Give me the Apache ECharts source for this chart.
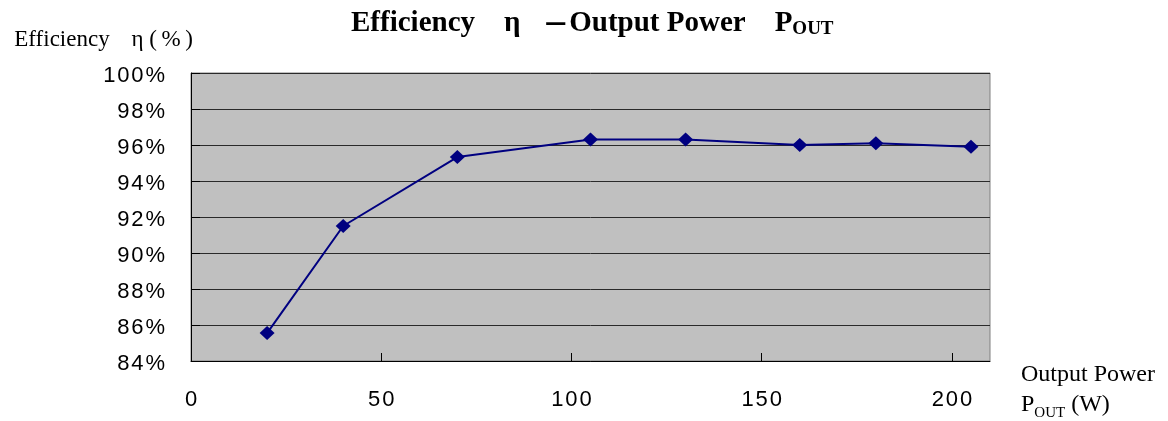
<!DOCTYPE html>
<html>
<head>
<meta charset="utf-8">
<script src="https://cdn.jsdelivr.net/npm/echarts@6/dist/echarts.min.js"></script>
<style>
  html, body { margin: 0; padding: 0; background: #fff; }
  #chart { width: 1168px; height: 421px; }
</style>
</head>
<body>
<div id="chart"></div>
<script>
// 出力電力 (W) と効率 (%)
var powerW = [20, 40, 70, 105, 130, 160, 180, 205];
var efficiency = [85.55, 91.5, 95.33, 96.3, 96.3, 96.0, 96.1, 95.9];

var HS = '\u200A'; // 文字間を少し空ける
function spaced(s) {
  return String(s).split('').join(HS);
}

var chart = echarts.init(document.getElementById('chart'));

var option = {
  animation: false,
  backgroundColor: '#fff',
  title: {
    text: '{a|Efficiency\u3000η   }{d|－}{a|Output Power\u3000P}{s|OUT}',
    left: 346,
    top: 4,
    textStyle: {
      rich: {
        a: {
          fontFamily: 'Liberation Serif',
          fontWeight: 'bold',
          fontSize: 29,
          lineHeight: 30,
          color: '#000'
        },
        d: {
          fontFamily: 'Noto Sans CJK JP',
          fontWeight: 'bold',
          fontSize: 27,
          lineHeight: 30,
          color: '#000'
        },
        s: {
          fontFamily: 'Liberation Serif',
          fontWeight: 'bold',
          fontSize: 19,
          lineHeight: 18,
          verticalAlign: 'bottom',
          color: '#000'
        }
      }
    }
  },
  grid: {
    left: 191,
    top: 73,
    right: 178,
    bottom: 59,
    show: true,
    backgroundColor: '#c0c0c0',
    borderColor: '#808080',
    borderWidth: 1
  },
  xAxis: {
    type: 'value',
    min: 0,
    max: 210,
    interval: 50,
    name: '{r1|Output Power}\n{r2|P}{s2|OUT}{r2| (W)}',
    nameLocation: 'end',
    nameGap: 31,
    nameTextStyle: {
      align: 'left',
      verticalAlign: 'top',
      rich: {
        r1: { fontFamily: 'Liberation Serif', fontSize: 24, lineHeight: 28, color: '#000' },
        r2: { fontFamily: 'Liberation Serif', fontSize: 24, lineHeight: 32, color: '#000' },
        s2: { fontFamily: 'Liberation Serif', fontSize: 15, lineHeight: 22, verticalAlign: 'bottom', color: '#000' }
      }
    },
    axisLine: { show: true, lineStyle: { color: '#000', width: 1 } },
    axisTick: { show: true, inside: true, length: 8, lineStyle: { color: '#000' } },
    splitLine: { show: false },
    axisLabel: {
      showMaxLabel: false,
      margin: 28,
      fontFamily: 'Liberation Sans',
      fontSize: 22,
      color: '#000',
      formatter: function (v) { return spaced(v); }
    }
  },
  yAxis: {
    type: 'value',
    min: 84,
    max: 100,
    interval: 2,
    name: 'Efficiency   \u2009η (\u2009%\u2009)',
    nameLocation: 'end',
    nameGap: 22,
    nameTextStyle: {
      align: 'right',
      verticalAlign: 'bottom',
      fontFamily: 'Liberation Serif',
      fontSize: 23,
      color: '#000',
      padding: [0, -2, 0, 0]
    },
    axisLine: { show: true, lineStyle: { color: '#000', width: 1 } },
    axisTick: { show: true, inside: true, length: 9, lineStyle: { color: '#000' } },
    splitLine: { show: true, lineStyle: { color: '#2a2a2a', width: 1 } },
    axisLabel: {
      margin: 26,
      formatter: function (v) { return '{v|' + spaced(v + '%') + '}'; },
      rich: {
        v: {
          fontFamily: 'Liberation Sans',
          fontSize: 22,
          color: '#000',
          lineHeight: 22,
          padding: [6, 0, 0, 0]
        }
      }
    }
  },
  series: [
    {
      type: 'line',
      data: powerW.map(function (p, i) { return [p, efficiency[i]]; }),
      symbol: 'diamond',
      symbolSize: [15, 14],
      lineStyle: { color: '#000080', width: 2 },
      itemStyle: { color: '#000080' }
    }
  ]
};

chart.setOption(option);
</script>
</body>
</html>
